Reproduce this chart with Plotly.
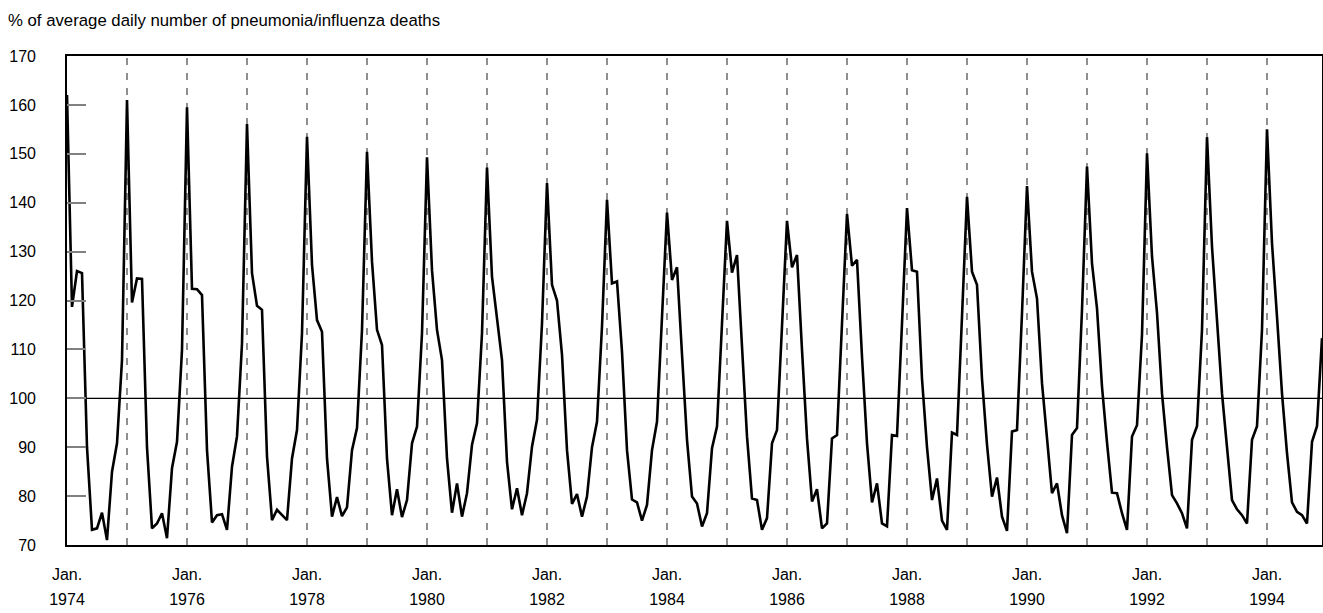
import plotly.graph_objects as go

# ---- data ----
start_year = 1974
n_months = 252  # Jan 1974 .. Dec 1994
months = [f"{start_year + k // 12}-{k % 12 + 1:02d}" for k in range(n_months)]

pct_of_average = [
    162.0, 118.7, 126.0, 125.6, 90.0, 73.1, 73.4, 76.6, 71.0, 85.0, 90.8, 107.8,
    161.0, 119.6, 124.5, 124.4, 90.0, 73.4, 74.4, 76.5, 71.4, 85.7, 91.1, 109.9,
    159.5, 122.4, 122.3, 121.1, 89.4, 74.6, 76.1, 76.3, 73.1, 86.0, 92.2, 111.2,
    156.1, 125.6, 118.9, 118.1, 88.1, 75.1, 77.2, 76.1, 75.1, 87.7, 93.5, 113.3,
    153.5, 127.3, 116.0, 113.6, 87.7, 75.8, 79.8, 75.9, 77.7, 89.4, 93.9, 114.0,
    150.4, 128.0, 114.0, 110.9, 87.7, 76.1, 81.4, 75.7, 79.2, 90.8, 94.2, 113.3,
    149.3, 126.2, 114.0, 107.8, 87.7, 76.6, 82.6, 75.8, 80.6, 90.5, 94.9, 113.3,
    147.2, 124.9, 116.7, 107.8, 87.0, 77.3, 81.6, 76.1, 80.6, 90.1, 95.6, 115.3,
    144.0, 123.2, 120.0, 108.9, 89.4, 78.4, 80.4, 75.8, 79.9, 90.0, 95.2, 114.7,
    140.6, 123.5, 123.9, 109.5, 89.4, 79.3, 78.7, 75.0, 78.2, 89.4, 95.2, 116.0,
    138.0, 124.2, 126.8, 109.0, 91.5, 79.9, 78.5, 73.8, 76.5, 89.8, 94.2, 115.3,
    136.3, 125.7, 129.3, 110.6, 92.2, 79.5, 79.2, 73.1, 75.5, 90.8, 93.5, 114.7,
    136.3, 126.8, 129.3, 109.9, 91.8, 78.9, 81.4, 73.4, 74.4, 91.8, 92.5, 115.3,
    137.7, 127.1, 128.3, 108.5, 90.8, 78.7, 82.6, 74.4, 73.8, 92.5, 92.3, 115.3,
    138.9, 126.2, 125.9, 104.0, 90.0, 79.2, 83.6, 75.0, 73.1, 93.0, 92.5, 116.7,
    141.2, 125.9, 123.2, 104.0, 90.5, 79.9, 83.8, 75.8, 72.9, 93.2, 93.5, 117.4,
    143.4, 125.9, 120.4, 103.1, 91.0, 80.6, 82.6, 76.1, 72.4, 92.5, 93.9, 118.1,
    147.4, 127.6, 118.4, 102.4, 91.0, 80.7, 80.6, 76.5, 73.1, 92.2, 94.5, 113.0,
    150.1, 129.0, 117.5, 101.0, 90.0, 80.2, 78.5, 76.5, 73.4, 91.5, 94.3, 114.0,
    153.4, 131.0, 116.0, 101.0, 90.0, 79.2, 77.3, 76.1, 74.4, 91.5, 94.3, 114.0,
    155.0, 131.7, 116.7, 101.0, 88.8, 78.7, 76.8, 76.1, 74.4, 91.1, 94.3, 112.3,
]

tick_years = list(range(1974, 1995))
january_ticks = [f"{y}-01" for y in tick_years]
month_labels = ["Jan." if (y - 1974) % 2 == 0 else "" for y in tick_years]
year_labels = [str(y) if (y - 1974) % 2 == 0 else "" for y in tick_years]
y_ticks = [70, 80, 90, 100, 110, 120, 130, 140, 150, 160, 170]
title_text = "% of average daily number of pneumonia/influenza deaths"

FONT = "Liberation Sans, Arial, sans-serif"
W, H = 1323, 613

fig = go.Figure()
fig.add_trace(go.Scatter(
    x=months, y=pct_of_average, mode="lines",
    line=dict(color="black", width=2.6),
    hoverinfo="x+y", showlegend=False,
))
# invisible twin on the second x axis (carries the year tick labels)
fig.add_trace(go.Scatter(
    x=months, y=pct_of_average, mode="lines", xaxis="x2",
    line=dict(color="rgba(0,0,0,0)", width=0),
    hoverinfo="skip", showlegend=False,
))

shapes = []
for m in january_ticks[1:]:
    shapes.append(dict(type="line", xref="x", yref="paper", x0=m, x1=m, y0=0, y1=1,
                       line=dict(color="#333333", width=1.1, dash="7px,8px"), layer="below"))
shapes.append(dict(type="line", xref="paper", yref="y", x0=0, x1=1, y0=100, y1=100,
                   line=dict(color="black", width=1.2), layer="below"))

fig.update_layout(
    width=W, height=H,
    margin=dict(l=67, r=1, t=56, b=68, autoexpand=False),
    paper_bgcolor="white", plot_bgcolor="white",
    font=dict(family=FONT, size=16, color="black"),
    shapes=shapes,
    title=dict(text=title_text, xref="container", yref="container",
               x=8 / W, xanchor="left", y=1 - 20 / H, yanchor="middle",
               font=dict(family=FONT, size=16.75, color="black")),
    xaxis=dict(
        type="category", range=[0, n_months - 1], automargin=False,
        tickmode="array", tickvals=january_ticks, ticktext=month_labels,
        ticks="", showgrid=False, zeroline=False,
        showline=True, linecolor="black", linewidth=1.6, mirror=True,
        tickfont=dict(family=FONT, size=16), ticklabelstandoff=14,
    ),
    xaxis2=dict(
        type="category", range=[0, n_months - 1], automargin=False,
        overlaying="x", anchor="y", side="bottom",
        tickmode="array", tickvals=january_ticks, ticktext=year_labels,
        ticks="", showgrid=False, zeroline=False, showline=False,
        tickfont=dict(family=FONT, size=16), ticklabelstandoff=43,
    ),
    yaxis=dict(
        range=[70, 170], tickmode="array", tickvals=y_ticks, automargin=False,
        ticks="inside", ticklen=19, tickwidth=1.5, tickcolor="#808080",
        showgrid=False, zeroline=False,
        showline=True, linecolor="black", linewidth=1.6, mirror=True,
        tickfont=dict(family=FONT, size=16), ticklabelstandoff=26,
    ),
)

fig.write_html(
    "out.html",
    config={"displayModeBar": False},
    post_script="document.body.style.margin='0';document.body.style.overflow='hidden';",
)
